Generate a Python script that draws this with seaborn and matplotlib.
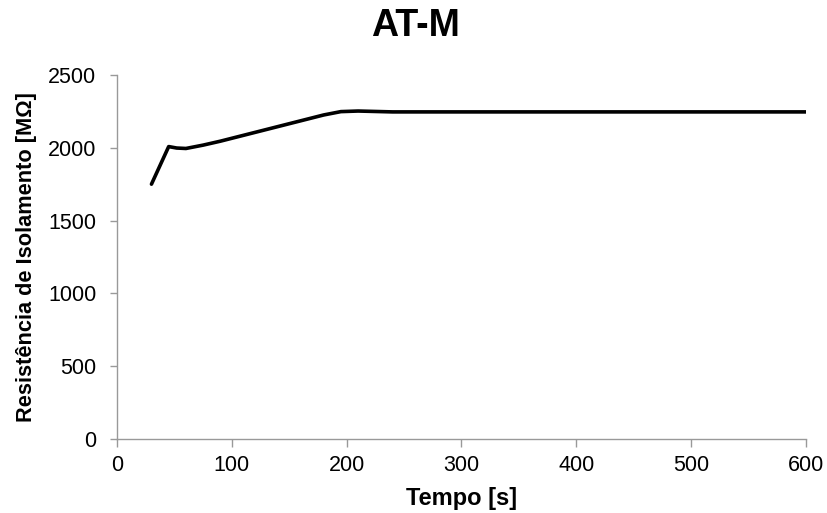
import numpy as np
import pandas as pd
import matplotlib
matplotlib.use("Agg")
import matplotlib.pyplot as plt
import seaborn as sns

# readings taken off the reference chart
tempo = [30, 45, 52, 60, 75, 90, 105, 120, 135, 150, 165, 180, 195, 210, 225, 240,
         300, 360, 420, 480, 540, 600]
resistencia = [1750, 2008, 1998, 1995, 2018, 2045, 2075, 2105, 2135, 2165, 2195, 2225,
               2248, 2252, 2249, 2246, 2246, 2246, 2246, 2246, 2246, 2246]
xticks = [0, 100, 200, 300, 400, 500, 600]
yticks = [0, 500, 1000, 1500, 2000, 2500]

df = pd.DataFrame({"tempo": tempo, "res": resistencia})

sns.set_style("white")
plt.rcParams['font.family'] = ['Liberation Sans', 'DejaVu Sans']
plt.rcParams['text.color'] = 'black'
plt.rcParams['axes.labelcolor'] = 'black'

fig = plt.figure(figsize=(8.27, 5.13), dpi=100)
ax = fig.add_axes([0.1415, 0.144, 0.833, 0.71])

sns.lineplot(data=df, x="tempo", y="res", ax=ax, color="black", linewidth=2.6)

ax.set_xlim(0, 600)
ax.set_ylim(0, 2500)
ax.set_xticks(xticks)
ax.set_yticks(yticks)
ax.tick_params(axis="both", bottom=True, left=True, labelsize=15.5,
               colors="#999999", width=1, direction="out", labelcolor="black")
ax.tick_params(axis="y", length=5, pad=10)
ax.tick_params(axis="x", length=5.5, pad=6)
for s in ["top", "right"]:
    ax.spines[s].set_visible(False)
for s in ["left", "bottom"]:
    ax.spines[s].set_color("#999999")
    ax.spines[s].set_linewidth(1)

ax.set_xlabel("Tempo [s]", fontsize=17, fontweight="bold", labelpad=8)
ax.set_ylabel("Resistência de Isolamento [MΩ]", fontsize=15.7, fontweight="bold",
              labelpad=8)
fig.suptitle("AT-M", x=0.502, y=0.985, va="top", fontsize=27,
             fontweight="bold", color="black")

fig.savefig("out.png", dpi=100)
